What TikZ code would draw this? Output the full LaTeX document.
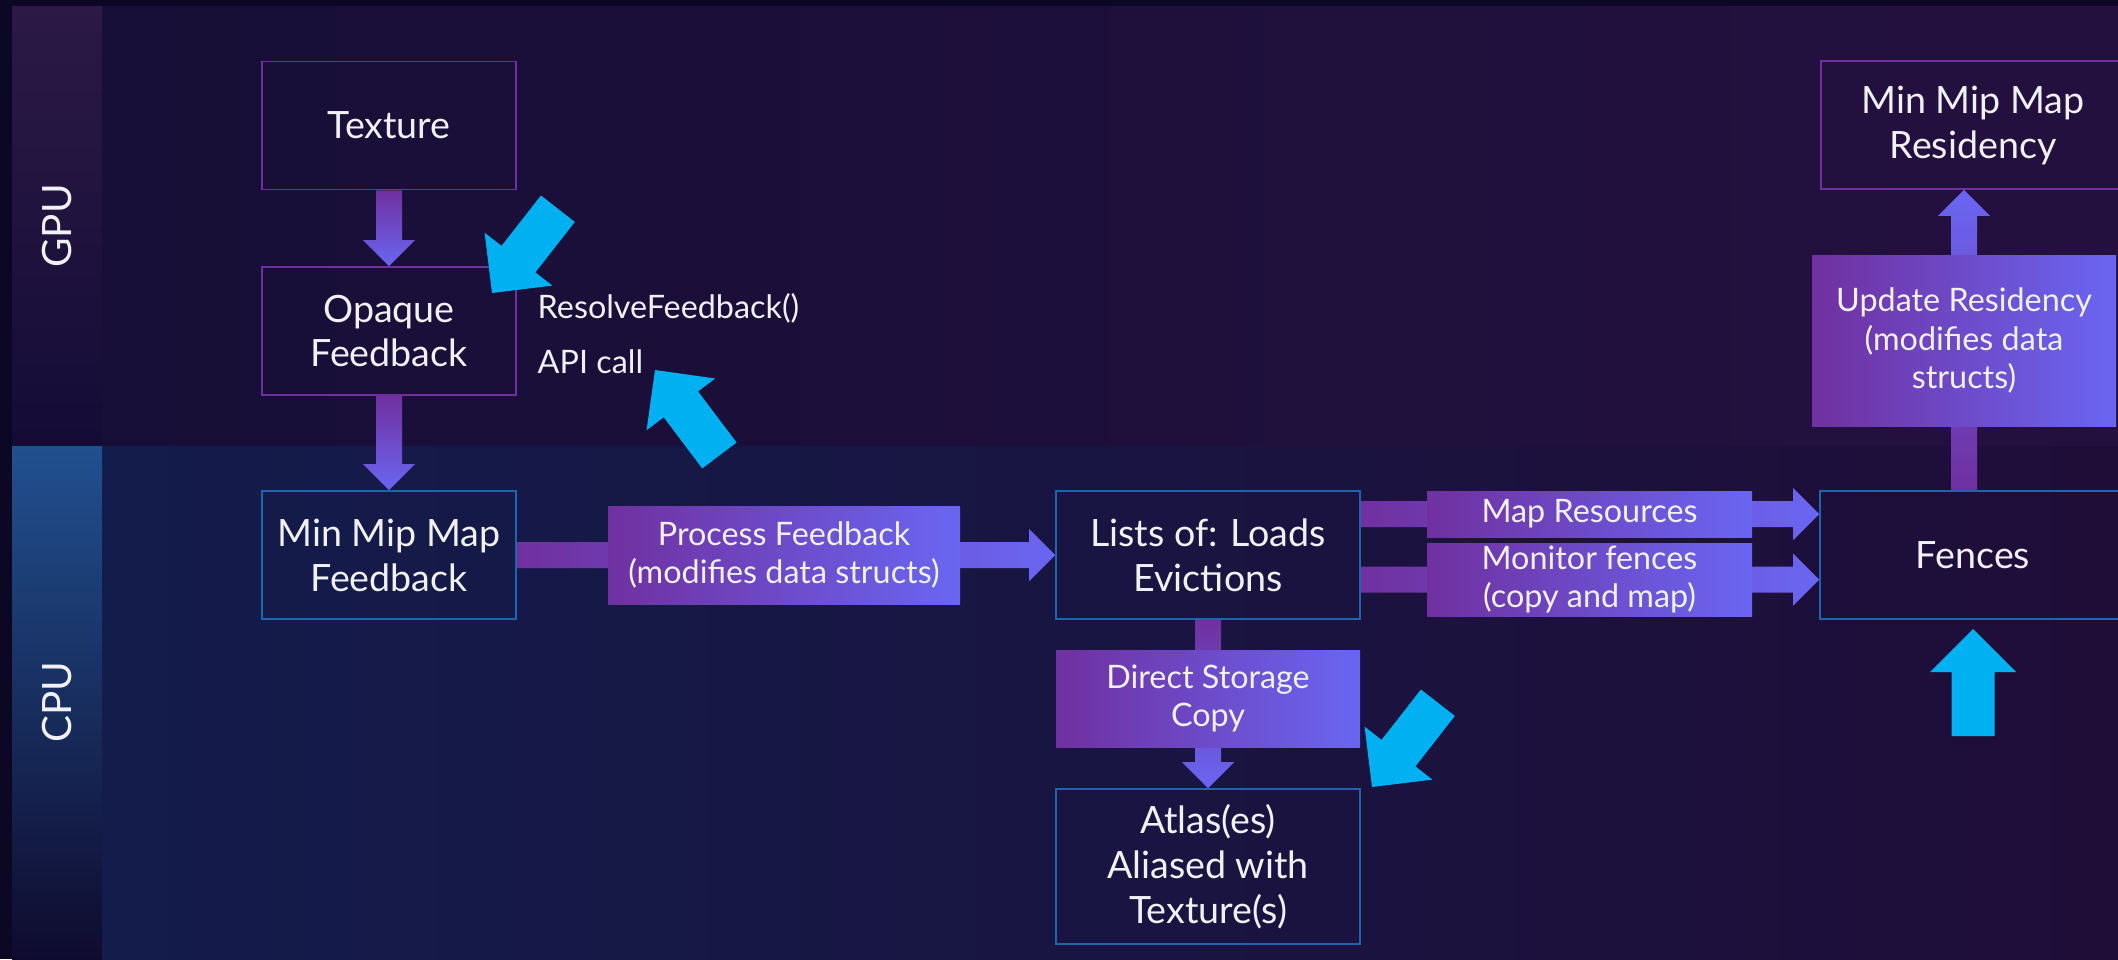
\documentclass[tikz,border=0pt]{standalone}
\usepackage{fontspec}
\setmainfont{Lato}
\usetikzlibrary{calc}

\definecolor{frame}{HTML}{0C0722}
\definecolor{gpubandA}{HTML}{2C1945}
\definecolor{gpubandB}{HTML}{130C37}
\definecolor{cpubandA}{HTML}{21508F}
\definecolor{cpubandB}{HTML}{0F0B2E}
\definecolor{gpuareaL}{HTML}{170F37}
\definecolor{gpuareaR}{HTML}{24103F}
\definecolor{cpuareaL}{HTML}{131C4B}
\definecolor{cpuareaR}{HTML}{1F0D38}
\definecolor{gpuline}{HTML}{7030A0}
\definecolor{cpuline}{HTML}{1F64AD}
\definecolor{flowA}{HTML}{7030A0}
\definecolor{flowB}{HTML}{6A66F2}
\definecolor{hintblue}{HTML}{00B0F0}
\definecolor{ink}{HTML}{F0F0F6}

\pgfdeclarelayer{backdrop}
\pgfdeclarelayer{links}
\pgfsetlayers{backdrop,links,main}

% block arrow from #1 to the tip #2, shaded with #3
\newcommand{\flowarrow}[3]{%
  \coordinate (flowbase) at ($#2!2.6mm!#1$);
  \shade [#3]
    ($#1!1.3mm!90:#2$) -- ($(flowbase)!1.3mm!-90:#1$)
    -- ($(flowbase)!2.6mm!-90:#1$) -- #2
    -- ($(flowbase)!2.6mm!90:#1$) -- ($(flowbase)!1.3mm!90:#1$)
    -- ($#1!1.3mm!-90:#2$) -- cycle;}

\tikzset{
  pics/pointer/.style = {code = {
    \fill [hintblue] (0, 0) -- (4.3mm, 4.3mm) -- (4.3mm, 2.15mm)
      -- (10.7mm, 2.15mm) -- (10.7mm, -2.15mm) -- (4.3mm, -2.15mm)
      -- (4.3mm, -4.3mm) -- cycle;}},
}

\begin{document}
\begin{tikzpicture}[
  x = 0.1mm, y = -0.1mm,
  box/.style = {draw, line width = 0.45pt, text = ink, align = center,
    minimum width = 25.4mm, minimum height = 12.8mm, inner sep = 0pt,
    font = \fontsize{10.7}{12.8}\selectfont},
  gpubox/.style = {box, draw = gpuline},
  cpubox/.style = {box, draw = cpuline},
  stage/.style = {left color = flowA, right color = flowB, text = ink,
    align = center, inner sep = 0pt, font = \fontsize{9.2}{11}\selectfont},
  note/.style = {text = ink, inner sep = 0pt, font = \fontsize{9.2}{10}\selectfont},
  band/.style = {text = ink, rotate = 90, font = \fontsize{11.5}{12}\selectfont},
  ]

  \useasboundingbox (0, 0) rectangle (2118, 959);

  \begin{pgfonlayer}{backdrop}
    \fill [frame] (0, 0) rectangle (2118, 959);
    \shade [top color = gpubandA, bottom color = gpubandB] (12, 6) rectangle (102, 446);
    \shade [top color = cpubandA, bottom color = cpubandB] (12, 446) rectangle (102, 959);
    \shade [left color = gpuareaL, right color = gpuareaR] (102, 6) rectangle (2118, 446);
    \shade [left color = cpuareaL, right color = cpuareaR] (102, 446) rectangle (2118, 959);
  \end{pgfonlayer}

  \node at (57, 226) [band, name = Gpu] {GPU};

  \node at (57, 702) [band, name = Cpu] {CPU};

  \node at (389, 125.5) [gpubox, name = Texture] {Texture};

  \node at (389, 331) [gpubox, name = Opaque] {Opaque\\Feedback};

  \node at (389, 555) [cpubox, name = MinMip] {Min Mip Map\\Feedback};

  \node at (1208, 555)
  [cpubox, minimum width = 30.4mm, name = Lists] {Lists of: Loads\\Evictions};

  \node at (1973, 555)
  [cpubox, minimum width = 30.6mm, name = Fences] {Fences};

  \node at (1208, 866.5)
  [cpubox, minimum width = 30.4mm, minimum height = 15.5mm, name = Atlas]
  {Atlas(es)\\Aliased with\\Texture(s)};

  \node at (1973, 125)
  [gpubox, minimum width = 30.4mm, name = Residency] {Min Mip Map\\Residency};

  \node at (784, 555)
  [stage, minimum width = 35.2mm, minimum height = 9.8mm, name = Process]
  {Process Feedback\\(modifies data structs)};

  \node at (1589.5, 514)
  [stage, minimum width = 32.5mm, minimum height = 4.6mm, name = MapRes]
  {Map Resources};

  \node at (1589.5, 579.5)
  [stage, minimum width = 32.5mm, minimum height = 7.3mm, name = Monitor]
  {Monitor fences\\(copy and map)};

  \node at (1208, 698.5)
  [stage, minimum width = 30.4mm, minimum height = 9.7mm, name = Copy]
  {Direct Storage\\Copy};

  \node at (1964, 340.5)
  [stage, minimum width = 30.4mm, minimum height = 17.1mm, name = Update]
  {Update Residency\\(modifies data\\structs)};

  \node at (537, 318) [note, anchor = base west, name = Resolve] {ResolveFeedback()};

  \node at (537, 373) [note, anchor = base west, name = ApiCall] {API call};

  \begin{pgfonlayer}{links}
    \flowarrow{(Texture.south)}{(Opaque.north)}{top color = flowA, bottom color = flowB}

    \flowarrow{(Opaque.south)}{(MinMip.north)}{top color = flowA, bottom color = flowB}

    \flowarrow{(MinMip.east)}{(Lists.west)}{left color = flowA, right color = flowB}

    \flowarrow{(Lists.east |- MapRes.center)}{(Fences.west |- MapRes.center)}{left color = flowA, right color = flowB}

    \flowarrow{(Lists.east |- Monitor.center)}{(Fences.west |- Monitor.center)}{left color = flowA, right color = flowB}

    \flowarrow{(Lists.south)}{(Atlas.north)}{top color = flowA, bottom color = flowB}

    \flowarrow{(Update.center |- Fences.north)}{(Update.center |- Residency.south)}{top color = flowB, bottom color = flowA}
  \end{pgfonlayer}

  % pointers
  \pic [rotate = 52] at (492, 293) {pointer};

  \pic [rotate = -53] at (655, 370) {pointer};

  \pic [rotate = 52] at (1372, 787) {pointer};

  \pic [rotate = -90] at (1973, 629) {pointer};

\end{tikzpicture}
\end{document}
